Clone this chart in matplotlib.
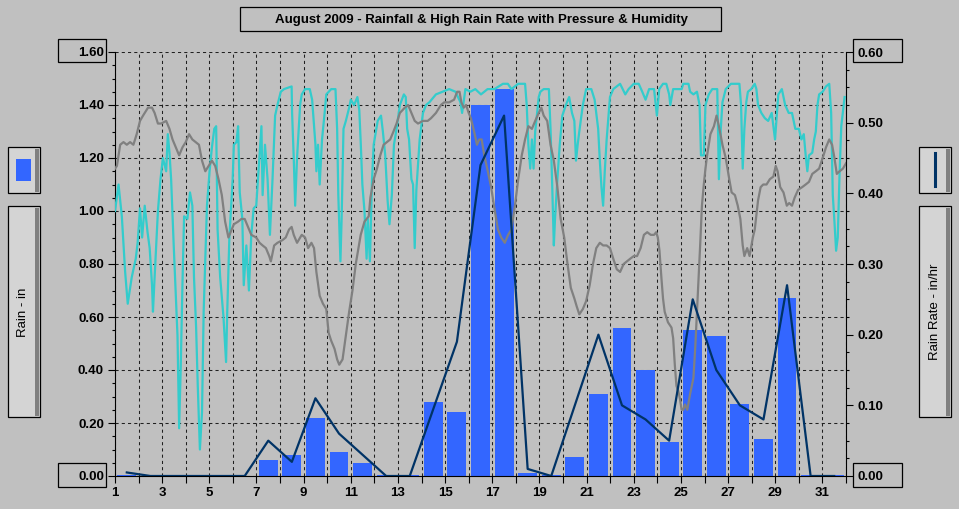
import matplotlib
matplotlib.use("Agg")
import matplotlib.pyplot as plt
from matplotlib.patches import Rectangle
from matplotlib.lines import Line2D
from matplotlib.ticker import MultipleLocator

plt.rcParams['font.family'] = ['Liberation Sans', 'DejaVu Sans']

W, H = 959, 509
BG = "#C0C0C0"

days = list(range(1, 32))
rain_in = [0.005, 0, 0, 0, 0, 0, 0.06, 0.08, 0.22, 0.09, 0.05, 0.005, 0.005, 0.28, 0.24,
           1.40, 1.46, 0.012, 0.005, 0.07, 0.31, 0.56, 0.40, 0.13, 0.55, 0.53, 0.27, 0.14,
           0.67, 0.005, 0.005]
rate_inhr = [0.005, 0, 0, 0, 0, 0, 0.05, 0.02, 0.11, 0.06, 0.03, 0, 0, 0.095, 0.19,
             0.44, 0.51, 0.01, 0, 0.10, 0.20, 0.10, 0.08, 0.05, 0.25, 0.15, 0.10, 0.08,
             0.27, 0, 0]

# humidity trace (day of month, %)
hum_t = [1.00, 1.15, 1.29, 1.43, 1.54, 1.71, 1.88, 1.96, 2.06, 2.15, 2.26, 2.38, 2.47, 2.57,
         2.61, 2.68, 2.82, 2.93, 3.03, 3.17, 3.24, 3.31, 3.38, 3.49, 3.58, 3.65, 3.72, 3.79,
         3.86, 3.93, 4.07, 4.18, 4.28, 4.35, 4.44, 4.51, 4.60, 4.69, 4.76, 4.90, 5.01, 5.11,
         5.21, 5.29, 5.35, 5.46, 5.60, 5.71, 5.76, 5.85, 5.99, 6.04, 6.15, 6.22, 6.29, 6.40,
         6.46, 6.57, 6.68, 6.78, 6.88, 6.99, 7.13, 7.21, 7.26, 7.36, 7.47, 7.57, 7.68, 7.79,
         7.89, 8.03, 8.17, 8.49, 8.51, 8.58, 8.64, 8.72, 8.85, 8.92, 9.06, 9.26, 9.36, 9.40,
         9.50, 9.54, 9.61, 9.68, 9.78, 9.89, 9.96, 10.17, 10.35, 10.42, 10.47, 10.56, 10.61,
         10.69, 10.79, 10.93, 11.00, 11.14, 11.28, 11.36, 11.42, 11.49, 11.58, 11.67, 11.72,
         11.81, 11.90, 11.97, 12.14, 12.28, 12.36, 12.46, 12.56, 12.64, 12.74, 12.83, 12.94,
         13.08, 13.25, 13.33, 13.39, 13.47, 13.57, 13.64, 13.71, 13.78, 13.92, 14.06, 14.19,
         14.33, 14.61, 14.89, 15.17, 15.44, 15.65, 15.72, 15.86, 16.07, 16.28, 16.52, 16.80,
         17.09, 17.45, 17.66, 17.81, 18.10, 18.39, 18.46, 18.53, 18.61, 18.68, 18.75, 18.82,
         18.97, 19.04, 19.18, 19.40, 19.47, 19.54, 19.61, 19.66, 19.76, 19.86, 19.97, 20.12,
         20.26, 20.38, 20.48, 20.55, 20.62, 20.69, 20.84, 20.98, 21.20, 21.34, 21.49, 21.56,
         21.63, 21.70, 21.77, 21.85, 21.99, 22.13, 22.42, 22.64, 22.78, 23.00, 23.21, 23.36,
         23.50, 23.65, 23.86, 23.98, 24.08, 24.24, 24.38, 24.50, 24.55, 24.67, 25.03, 25.10,
         25.32, 25.39, 25.53, 25.68, 25.79, 25.85, 25.97, 26.04, 26.18, 26.33, 26.54, 26.61,
         26.69, 26.76, 26.90, 27.12, 27.48, 27.55, 27.62, 27.69, 27.77, 27.84, 27.98, 28.13,
         28.20, 28.27, 28.41, 28.56, 28.70, 28.85, 28.99, 29.13, 29.28, 29.42, 29.57, 29.71,
         29.85, 30.00, 30.11, 30.21, 30.29, 30.36, 30.43, 30.57, 30.65, 30.72, 30.79, 30.86,
         31.01, 31.15, 31.29, 31.37, 31.44, 31.51, 31.58, 31.65, 31.73, 31.80, 31.94]
hum_pct = [70, 75, 69, 58.5, 52.5, 57.5, 61, 64, 70.5, 65, 71, 66, 63, 56,
           51, 57.5, 70, 76, 80, 77.5, 84.5, 81, 76, 63.5, 54, 46.5, 29, 41,
           56, 69, 68.5, 73.5, 71, 57.5, 48, 37, 25, 32, 51, 71, 77.5, 82,
           85.5, 86, 66.5, 57.5, 50, 41.5, 51, 65, 76, 82.5, 83, 86, 73.5, 68.5,
           56, 63.5, 55, 65.5, 70.5, 71, 80.5, 86, 73, 82.5, 76, 65.5, 76, 88,
           90, 92.5, 93, 93.5, 88.5, 80, 71, 80, 90, 92, 93, 93, 91, 88.5,
           82.5, 77.5, 82.5, 75, 83.5, 88.5, 92, 93, 93, 85.5, 73, 60.5, 68.5,
           85.5, 87, 89.5, 91, 90, 91.5, 89, 83, 75, 70, 61, 68.5,
           60.5, 76, 82.5, 87, 88, 85, 80.5, 72, 67.5, 73, 82.5, 85.5,
           90, 92, 91.5, 85.5, 83.5, 76, 75, 63, 74, 83.5, 88.5, 90,
           90.5, 92, 92.5, 93, 92.5, 90.5, 88.5, 93, 92.5, 93, 92, 93,
           93, 94, 94, 93, 94, 94, 90, 82.5, 78, 83.5, 78, 85,
           91.5, 92.5, 93, 93, 85.5, 75, 63.5, 68.5, 76, 82.5, 88, 90,
           91.5, 88.5, 87, 79.5, 82.5, 85, 90, 93, 93, 91, 85.5, 79.5,
           74.5, 71, 77.5, 83.5, 91.5, 93, 94, 92, 93, 94, 94, 92.5,
           91, 93, 93, 88, 93, 94, 94, 92, 90, 93, 93, 94,
           94, 92.5, 92, 92.5, 90, 80.5, 80.5, 90, 92, 93, 93, 76,
           85.5, 90.5, 93, 94, 94, 90, 78, 85.5, 90.5, 92.5, 93, 94,
           93, 90, 88.5, 87.5, 87, 88.5, 83.5, 92, 93, 90, 88.5, 88.5,
           85.5, 85.5, 83.5, 84.5, 80.5, 77.5, 80.5, 81, 83.5, 85, 90, 92,
           92.5, 93.5, 94, 88.5, 73, 68, 62.5, 65, 77.5, 86, 91.5]

# barometer trace (day of month, inHg)
pres_t = [1.00, 1.08, 1.22, 1.36, 1.50, 1.64, 1.78, 1.92, 2.06, 2.19, 2.40, 2.57, 2.68, 2.82,
          2.96, 3.17, 3.31, 3.44, 3.58, 3.72, 3.86, 4.00, 4.14, 4.28, 4.42, 4.56, 4.69, 4.83,
          4.97, 5.11, 5.25, 5.39, 5.53, 5.67, 5.81, 5.90, 6.04, 6.22, 6.36, 6.50, 6.64, 6.78,
          6.99, 7.13, 7.26, 7.40, 7.54, 7.61, 7.75, 7.89, 8.10, 8.24, 8.38, 8.49, 8.58, 8.72,
          8.92, 9.06, 9.19, 9.33, 9.44, 9.54, 9.68, 9.82, 9.96, 10.06, 10.17, 10.31, 10.42,
          10.51, 10.65, 10.79, 10.93, 11.07, 11.21, 11.42, 11.58, 11.76, 11.83, 11.97, 12.11,
          12.25, 12.39, 12.53, 12.67, 12.81, 12.94, 13.08, 13.29, 13.43, 13.57, 13.71, 13.85,
          14.06, 14.26, 14.40, 14.61, 14.82, 14.96, 15.17, 15.38, 15.51, 15.61, 15.69, 15.79,
          15.89, 16.00, 16.09, 16.23, 16.35, 16.45, 16.55, 16.66, 16.81, 16.95, 17.09, 17.24,
          17.38, 17.53, 17.67, 17.81, 17.96, 18.10, 18.25, 18.39, 18.53, 18.68, 18.82, 18.97,
          19.08, 19.18, 19.33, 19.47, 19.61, 19.76, 19.90, 20.05, 20.19, 20.33, 20.48, 20.58,
          20.69, 20.84, 20.98, 21.13, 21.27, 21.41, 21.56, 21.70, 21.85, 21.99, 22.13, 22.28,
          22.42, 22.57, 22.71, 22.85, 23.00, 23.14, 23.29, 23.43, 23.57, 23.72, 23.86, 23.95,
          24.02, 24.09, 24.17, 24.24, 24.31, 24.45, 24.60, 24.67, 24.74, 24.81, 24.89, 24.96,
          25.03, 25.10, 25.17, 25.27, 25.39, 25.53, 25.61, 25.68, 25.75, 25.82, 25.89, 25.97,
          26.04, 26.11, 26.25, 26.40, 26.51, 26.61, 26.76, 26.90, 27.05, 27.15, 27.29, 27.41,
          27.52, 27.62, 27.69, 27.81, 27.91, 28.05, 28.13, 28.27, 28.38, 28.49, 28.63, 28.77,
          28.92, 29.02, 29.10, 29.21, 29.35, 29.49, 29.59, 29.71, 29.82, 29.97, 30.14, 30.29,
          30.43, 30.57, 30.72, 30.86, 31.01, 31.15, 31.29, 31.41, 31.51, 31.61, 31.73, 31.87,
          32.00]
pres_inhg = [29.98, 29.985, 30.025, 30.03, 30.025, 30.03, 30.025, 30.045, 30.07, 30.08, 30.095,
             30.095, 30.085, 30.065, 30.065, 30.07, 30.055, 30.035, 30.02, 30.005, 30.02, 30.03,
             30.045, 30.035, 30.03, 30.025, 29.995, 29.975, 29.985, 29.995, 29.985, 29.96, 29.93,
             29.88, 29.85, 29.86, 29.875, 29.88, 29.885, 29.885, 29.87, 29.855, 29.85, 29.84,
             29.835, 29.83, 29.815, 29.805, 29.835, 29.84, 29.845, 29.85, 29.865, 29.87, 29.855,
             29.84, 29.855, 29.85, 29.83, 29.84, 29.83, 29.785, 29.74, 29.725, 29.715, 29.67,
             29.655, 29.64, 29.62, 29.61, 29.62, 29.665, 29.71, 29.75, 29.80, 29.855, 29.88,
             29.89, 29.925, 29.96, 29.98, 30.005, 30.025, 30.03, 30.035, 30.05, 30.065, 30.085,
             30.095, 30.10, 30.085, 30.07, 30.065, 30.07, 30.07, 30.075, 30.085, 30.10, 30.105,
             30.105, 30.11, 30.125, 30.125, 30.105, 30.095, 30.10, 30.085, 30.075, 30.05, 30.025,
             30.035, 30.035, 30.005, 29.975, 29.945, 29.905, 29.865, 29.85, 29.84, 29.855,
             29.865, 29.91, 29.96, 30.005, 30.035, 30.06, 30.055, 30.07, 30.085, 30.095, 30.08,
             30.07, 30.025, 29.995, 29.945, 29.885, 29.85, 29.80, 29.755, 29.735, 29.72, 29.705,
             29.715, 29.73, 29.76, 29.80, 29.83, 29.84, 29.835, 29.835, 29.83, 29.81, 29.79,
             29.785, 29.80, 29.805, 29.81, 29.815, 29.815, 29.83, 29.855, 29.86, 29.855, 29.855,
             29.86, 29.85, 29.825, 29.775, 29.735, 29.71, 29.69, 29.68, 29.66, 29.61, 29.57,
             29.56, 29.545, 29.525, 29.525, 29.535, 29.525, 29.555, 29.585, 29.645, 29.71,
             29.775, 29.84, 29.91, 29.95, 29.98, 30.005, 30.045, 30.06, 30.08, 30.06, 30.025,
             30.00, 29.96, 29.935, 29.93, 29.91, 29.885, 29.835, 29.815, 29.83, 29.815, 29.85,
             29.865, 29.92, 29.945, 29.95, 29.95, 29.96, 29.965, 29.985, 29.975, 29.945, 29.935,
             29.91, 29.915, 29.91, 29.925, 29.94, 29.945, 29.95, 29.955, 29.97, 29.975, 29.98,
             30.00, 30.02, 30.035, 30.025, 30.00, 29.97, 29.975, 29.98, 29.99]

x_labels = [str(d) if d % 2 == 1 and d < 32 else "" for d in range(1, 33)]
title = "August 2009 - Rainfall & High Rain Rate with Pressure & Humidity"


def fig_rect(x0, y0, x1, y1, **kw):
    fig.add_artist(Rectangle((x0 / W, 1 - y1 / H), (x1 - x0) / W, (y1 - y0) / H,
                             transform=fig.transFigure, **kw))


def button(x0, y0, x1, y1):
    fig_rect(x0, y0, x1, y1, facecolor="#D4D4D4", edgecolor="black", lw=0.9)
    fig_rect(x1 - 5, y0 + 2, x1 - 1, y1 - 1, facecolor="#808080", edgecolor="none")


fig = plt.figure(figsize=(W / 100, H / 100), dpi=100, facecolor=BG)
ax = fig.add_axes([115 / W, 1 - 476 / H, 731 / W, 424 / H], facecolor=BG)
ax_h = ax.twinx()
ax_p = ax.twinx()
ax_r = ax.twinx()

ax.set_axisbelow(True)
ax.bar([d + 0.5 for d in days], rain_in, width=0.8, color="#3366FF", zorder=2)
ax_h.plot(hum_t, hum_pct, color="#33CCCC", lw=1.6)
ax_p.plot(pres_t, pres_inhg, color="#808080", lw=1.6)
ax_r.plot([d + 0.5 for d in days], rate_inhr, color="#003366", lw=1.6)

ax.set_xlim(1, 32)
ax.set_ylim(0, 1.6)
ax_h.set_ylim(20, 100)
ax_p.set_ylim(29.40, 30.20)
ax_r.set_ylim(0, 0.6)

ax.set_xticks(range(1, 33))
ax.set_xticklabels(x_labels)
ax.yaxis.set_major_locator(MultipleLocator(0.2))
ax.yaxis.set_minor_locator(MultipleLocator(0.05))
ax.yaxis.set_major_formatter(lambda v, p: f"{v:.2f}")
ax_r.yaxis.set_major_locator(MultipleLocator(0.1))
ax_r.yaxis.set_minor_locator(MultipleLocator(0.025))
ax_r.yaxis.set_major_formatter(lambda v, p: f"{v:.2f}")

ax.grid(True, which="major", color="#202020", lw=0.75, ls=(0, (3, 3)))

for a in (ax, ax_h, ax_p, ax_r):
    for s in a.spines.values():
        s.set_visible(False)
ax.spines["left"].set_visible(True)
ax.spines["bottom"].set_visible(True)
ax_r.spines["right"].set_visible(True)
for a in (ax_h, ax_p):
    a.set_yticks([])

tick_font = dict(labelsize=9.5, labelcolor="black")
ax.tick_params(axis="both", which="major", direction="out", length=5, width=0.8, pad=3,
               **tick_font)
ax.tick_params(axis="y", which="minor", direction="out", length=2.5, width=0.8)
ax_r.tick_params(axis="y", which="major", direction="out", length=5, width=0.8, pad=3,
                 **tick_font)
ax_r.tick_params(axis="y", which="minor", direction="out", length=2.5, width=0.8)
for lab in ax.get_xticklabels() + ax.get_yticklabels() + ax_r.get_yticklabels():
    lab.set_fontweight("bold")

# title box
fig_rect(240, 7, 721, 31, facecolor="none", edgecolor="black", lw=0.9)
fig.text(481 / W, 1 - 19.5 / H, title, ha="center", va="center", fontsize=9.5,
         fontweight="bold")

# boxes round end labels
for x0, x1 in ((58, 106), (853, 902)):
    fig_rect(x0, 39, x1, 62, facecolor="none", edgecolor="black", lw=0.9)
    fig_rect(x0, 463, x1, 487, facecolor="none", edgecolor="black", lw=0.9)

# left legend
button(8, 147, 40, 193)
fig_rect(16, 159, 31, 181, facecolor="#3366FF", edgecolor="none")
button(8, 206, 40, 417)
fig.text(23 / W, 1 - 312 / H, "Rain - in", rotation=90, ha="center", va="center",
         fontsize=9.5)

# right legend
button(919, 147, 951, 193)
fig.add_artist(Line2D([935 / W, 935 / W], [1 - 153 / H, 1 - 186 / H], color="#003366",
                      lw=2.2, transform=fig.transFigure))
button(919, 206, 951, 417)
fig.text(935 / W, 1 - 312 / H, "Rain Rate - in/hr", rotation=90, ha="center",
         va="center", fontsize=9.5)

fig.savefig("out.png", dpi=100, facecolor=BG)
